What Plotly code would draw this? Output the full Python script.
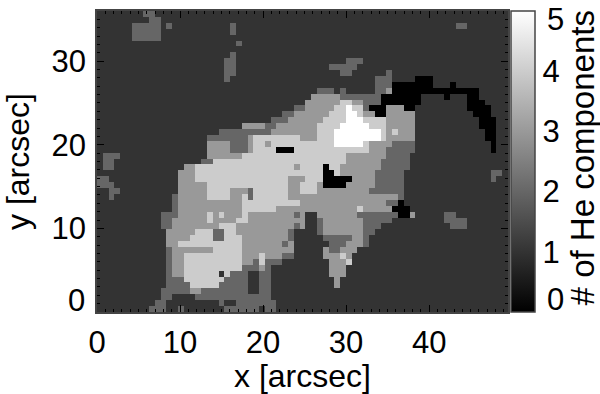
import plotly.graph_objects as go

# Number of He components per map cell, top row first (digits grouped by ten columns).
component_rows = [
"1111111122 1111111111 1111111111 1111111111 1111111111 1111111111 1111111111 1",
"1111111112 2111111111 1111111111 1111111111 1111111111 1111111111 1111111111 1",
"1111112222 2121111111 1112111111 1111111111 1111111111 1111111111 1122111111 1",
"1111112222 2111111111 1112111111 1111111111 1111111111 1111111111 1111111111 1",
"1111112222 2111111111 1111111111 1111111111 1111111111 1111111111 1111111111 1",
"1111111111 1111111111 1111211111 1111111111 1111111111 1111111111 1111111111 1",
"1111111111 1111111111 1111111111 1111111111 1111111111 1111111111 1111111111 1",
"1111111111 1111111111 1112111111 1111111111 1111111111 1111111111 1111111111 1",
"1111111111 1111111111 1122111111 1111111111 1112221111 1111111111 1111111111 1",
"1111111111 1111111111 1122111111 1111111111 2222211111 1111111111 1111111111 1",
"1111111111 1111111111 1122111111 1111111111 1122111111 2111111111 1111111111 1",
"1111111111 1111111111 1121111111 1111111111 1111111122 2111100011 1111111111 1",
"1111111111 1111111111 1111111111 1111111111 1111111122 2000000011 1011111111 1",
"1111111111 1111111111 1111111111 1111111122 2121111122 3000000000 0000001111 1",
"1111111111 1111111111 1111111111 1111111333 3322222220 0000001111 0111001111 1",
"1111111111 1111111111 1111111111 1111113333 3344332220 0000001111 1111000111 1",
"1111111111 1111111111 1111111111 1111223333 3445442000 3330011111 1111000011 1",
"1111111111 1111111111 1111111111 1122333333 4445543300 3333311111 1111100011 1",
"1111111111 1111111111 1111111111 2223333334 4445554444 3333311111 1111110001 1",
"1111111111 1111111111 1111133332 2333333344 4455555444 3333311111 1111110001 1",
"1111111111 1111111111 1222222222 3333333344 4555555554 3433311111 1111111001 1",
"1111111111 1111111112 2222223444 4444433344 4555555554 3333311111 1111111001 1",
"1111111111 1111111113 3332223443 4444444444 4555554333 3222211111 1111111101 1",
"1111111111 1111111113 3332223444 4000444444 4444444333 2222211111 1111111101 1",
"1222111111 1111111113 3333344444 4444444444 4443333333 2222111111 1111111111 1",
"1221111111 1111111122 4444444444 4444444444 4443333332 2222111111 1111111111 1",
"1221111111 1111133444 4444444444 4444344440 4433333332 2222111111 1111111111 1",
"1111111111 1111333444 4444444444 4444444440 0433333322 2221111111 1111111122 1",
"2211111111 1111333444 4444444444 4443334440 0000333322 2221111111 1111111121 1",
"2221111111 1111333334 4444444444 4443344430 0003333322 2221111111 1111111111 1",
"1122111111 1111333334 4443332444 4443344433 3333333222 2221111111 1111111111 1",
"1121111111 1112333334 4443342444 4443333333 3333333333 3321111111 1111111111 1",
"1111111111 1112333333 3333344444 4444433333 3333333333 2201111111 1111111111 1",
"1111111111 1112333333 3333344444 4333333333 3333343333 3000111111 1111111111 1",
"1111111111 1222333334 3433343333 3333231133 3333322222 2200311111 2211111111 1",
"1111111111 1223333334 3333443333 3333331123 3333332222 2111111111 2222111111 1",
"1111111111 1223333333 3444333333 3333231123 3333332221 1111111111 1222111111 1",
"1111111111 1133333444 2244333333 3332111123 3333332211 1111111111 1111111111 1",
"1111111111 1133334444 2244433333 3332111112 2222332111 1111111111 1111111111 1",
"1111111111 1133444444 4444433333 3323111111 2223332111 1111111111 1111111111 1",
"1111111111 1123333333 4444433333 3333111113 2233311111 1111111111 1111111111 1",
"1111111111 1123344444 4444433343 3322111113 3343111111 1111111111 1111111111 1",
"1111111111 1123344444 4444433242 2211111111 3334111111 1111111111 1111111111 1",
"1111111111 1123344444 4444422232 1111111111 3331111111 1111111111 1111111111 1",
"1111111111 1123344444 4142221122 1111111111 3331111111 1111111111 1111111111 1",
"1111111111 1122244444 4422221122 1111111111 1311111111 1111111111 1111111111 1",
"1111111111 1122224444 4222221122 1111111111 1311111111 1111111111 1111111111 1",
"1111111111 1222223322 2222221122 1111111111 1111111111 1111111111 1111111111 1",
"1111111111 1221111222 2222222222 1111111111 1111111111 1111111111 1111111111 1",
"1111111111 2211111111 1211222222 2111111111 1111111111 1111111111 1111111111 1",
"1111111112 2211211111 1122222212 2111111111 1111111111 1111111111 1111111111 1",
]
x_tick_labels = ["0", "10", "20", "30", "40"]
y_tick_labels = ["10", "20", "30"]
colorbar_ticks = [1, 2, 3, 4]
colorbar_title = "# of He components"

z = [[int(ch) for ch in row.replace(" ", "")] for row in component_rows][::-1]
n_cols = len(z[0])
n_rows = len(z)
x_span = 49.5
y_span = 36.0

FONT = "Liberation Sans"
SIZE = 31
TITLE_SIZE = 32
AXIS = "#444444"

fig = go.Figure(go.Heatmap(
    z=z,
    x0=x_span / n_cols / 2, dx=x_span / n_cols,
    y0=y_span / n_rows / 2, dy=y_span / n_rows,
    zmin=0, zmax=5,
    colorscale=[[0, "black"], [1, "white"]],
    hoverinfo="skip",
    colorbar=dict(
        x=1.008, xanchor="left",
        y=0, yanchor="bottom",
        len=1, lenmode="fraction",
        thickness=24, thicknessmode="pixels",
        outlinecolor=AXIS, outlinewidth=1.5,
        tickmode="array", tickvals=colorbar_ticks,
        ticktext=[str(v) for v in colorbar_ticks],
        ticks="",
        tickfont=dict(family=FONT, size=SIZE, color="black"),
        xpad=0, ypad=0,
    ),
))

fig.update_layout(
    width=600, height=394, autosize=False,
    margin=dict(l=97, r=92, t=9, b=82, pad=0),
    paper_bgcolor="white", plot_bgcolor="white",
    font=dict(family=FONT, size=SIZE, color="black"),
    xaxis=dict(
        range=[0, x_span], tickmode="array", tickvals=[0, 10, 20, 30, 40],
        ticktext=x_tick_labels, ticks="inside", ticklen=7, tickwidth=1, tickcolor="black",
        ticklabelstandoff=2,
        minor=dict(dtick=1, ticks="inside", ticklen=3, tickwidth=1, tickcolor="black"),
        showline=True, linecolor=AXIS, linewidth=1.5, mirror="ticks", showgrid=False, zeroline=False,
        title=dict(text="x [arcsec]", font=dict(family=FONT, size=TITLE_SIZE), standoff=0),
    ),
    yaxis=dict(
        range=[0, y_span], tickmode="array", tickvals=[10, 20, 30],
        ticktext=y_tick_labels, ticks="inside", ticklen=7, tickwidth=1, tickcolor="black",
        ticklabelstandoff=3,
        minor=dict(dtick=1, ticks="inside", ticklen=3, tickwidth=1, tickcolor="black"),
        showline=True, linecolor=AXIS, linewidth=1.5, mirror="ticks", showgrid=False, zeroline=False,
        title=dict(text="y [arcsec]", font=dict(family=FONT, size=TITLE_SIZE), standoff=20),
    ),
    annotations=[
        dict(text="0", xref="paper", yref="paper", x=-0.024, y=0.037, xanchor="right", yanchor="middle",
             showarrow=False, font=dict(family=FONT, size=SIZE)),
        dict(text="5", xref="paper", yref="paper", x=1.09, y=0.973, xanchor="left", yanchor="middle",
             showarrow=False, font=dict(family=FONT, size=SIZE)),
        dict(text="0", xref="paper", yref="paper", x=1.09, y=0.04, xanchor="left", yanchor="middle",
             showarrow=False, font=dict(family=FONT, size=SIZE)),
        dict(text=colorbar_title, xref="paper", yref="paper", x=1.182, y=0.513, xanchor="center", yanchor="middle",
             textangle=-90, showarrow=False, font=dict(family=FONT, size=33)),
    ],
)

fig.write_html("out.html", config={"displayModeBar": False},
               post_script="document.body.style.margin='0';document.body.style.overflow='hidden';")
